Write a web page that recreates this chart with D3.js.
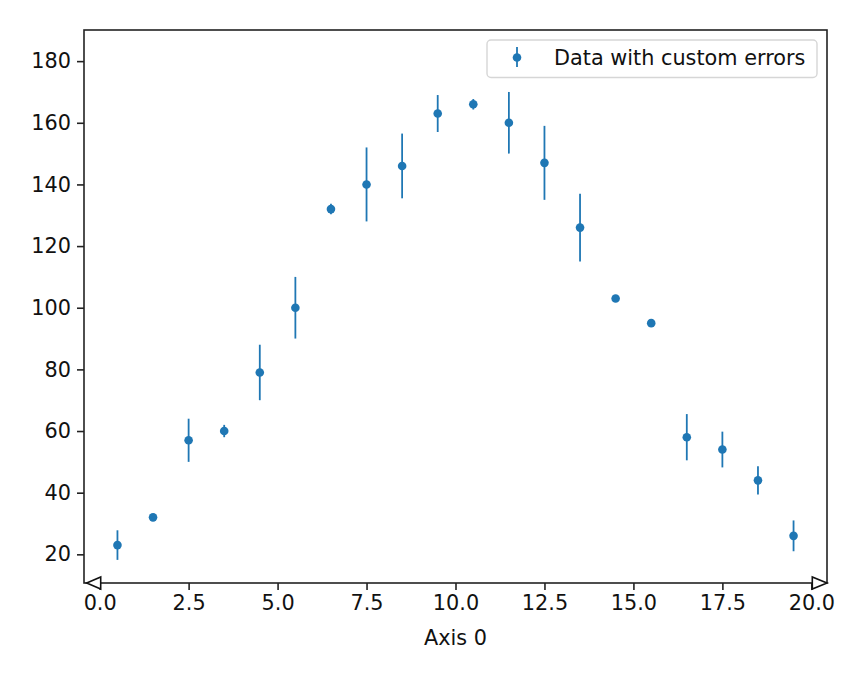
<!DOCTYPE html>
<html>
<head>
<meta charset="utf-8">
<script src="https://cdn.jsdelivr.net/npm/d3@7"></script>
<style>
  body { margin: 0; background: #fff; }
  text { font-family: "DejaVu Sans", sans-serif; }
</style>
</head>
<body>
<script>
var w = 864;
var h = 679;
var margin = {left: 84, right: 37, top: 30, bottom: 96};
var fontSize = "20.8px";

// bin centres, values and symmetric errors
var xs = [0.5, 1.5, 2.5, 3.5, 4.5, 5.5, 6.5, 7.5, 8.5, 9.5,
          10.5, 11.5, 12.5, 13.5, 14.5, 15.5, 16.5, 17.5, 18.5, 19.5];
var ys = [23, 32, 57, 60, 79, 100, 132, 140, 146, 163,
          166, 160, 147, 126, 103, 95, 58, 54, 44, 26];
var errs = [4.8, 0.5, 7, 2, 9, 10, 1.7, 12, 10.5, 6,
            1.7, 10, 12, 11, 0.5, 0.5, 7.5, 5.8, 4.6, 5];
var xTicks = [0, 2.5, 5, 7.5, 10, 12.5, 15, 17.5, 20];
var yTicks = [20, 40, 60, 80, 100, 120, 140, 160, 180];
var legendLabel = "Data with custom errors";
var xLabel = "Axis 0";

var data = xs.map(function(x, i) { return {x: x, y: ys[i], e: errs[i]}; });

var blue = "#1f77b4";
var x0 = margin.left, x1 = w - margin.right;
var y0 = margin.top, y1 = h - margin.bottom;

var xScale = d3.scaleLinear().domain([-0.44, 20.44]).range([x0, x1]);
var yScale = d3.scaleLinear().domain([10.7, 190.1]).range([y1, y0]);

var svg = d3.select("body").append("svg")
    .attr("width", w)
    .attr("height", h);

// error bars
svg.append("g").selectAll("line")
    .data(data)
    .enter()
    .append("line")
    .attr("x1", function(d) { return xScale(d.x); })
    .attr("x2", function(d) { return xScale(d.x); })
    .attr("y1", function(d) { return yScale(d.y - d.e); })
    .attr("y2", function(d) { return yScale(d.y + d.e); })
    .attr("stroke", blue)
    .attr("stroke-width", 1.8);

// points
svg.append("g").selectAll("circle")
    .data(data)
    .enter()
    .append("circle")
    .attr("cx", function(d) { return xScale(d.x); })
    .attr("cy", function(d) { return yScale(d.y); })
    .attr("r", 4.3)
    .attr("fill", blue);

// y axis
var yAxis = d3.axisLeft(yScale).tickValues(yTicks).tickSize(7).tickPadding(6)
    .tickFormat(d3.format("d"));
var gy = svg.append("g")
    .attr("transform", "translate(" + x0 + ",0)")
    .call(yAxis);

// x axis
var xAxis = d3.axisBottom(xScale).tickValues(xTicks).tickSize(7).tickPadding(5)
    .tickFormat(d3.format(".1f"));
var gx = svg.append("g")
    .attr("transform", "translate(0," + y1 + ")")
    .call(xAxis);

[gx, gy].forEach(function(g) {
    g.select(".domain").remove();
    g.selectAll(".tick line").attr("stroke", "#222").attr("stroke-width", 1.6);
    g.selectAll(".tick text").attr("font-size", fontSize).attr("fill", "#111");
});

// frame
svg.append("rect")
    .attr("x", x0).attr("y", y0)
    .attr("width", x1 - x0).attr("height", y1 - y0)
    .attr("fill", "none")
    .attr("stroke", "#222")
    .attr("stroke-width", 1.6);

// open arrow heads at both ends of the x axis
var arrows = [
    [[x0 + 2.7, y1], [x0 + 16.7, y1 - 6], [x0 + 16.7, y1 + 6]],
    [[x1, y1], [x1 - 14.7, y1 - 6], [x1 - 14.7, y1 + 6]]
];
svg.append("g").selectAll("path")
    .data(arrows)
    .enter()
    .append("path")
    .attr("d", function(d) { return "M" + d.join("L") + "Z"; })
    .attr("fill", "#fff")
    .attr("stroke", "#111")
    .attr("stroke-width", 1.6)
    .attr("stroke-linejoin", "miter");

// x label
svg.append("text")
    .attr("x", (x0 + x1) / 2)
    .attr("y", 645)
    .attr("text-anchor", "middle")
    .attr("font-size", fontSize)
    .attr("fill", "#111")
    .text(xLabel);

// legend
var lg = svg.append("g").attr("transform", "translate(487,40)");
lg.append("rect")
    .attr("width", 330).attr("height", 37.5)
    .attr("rx", 4).attr("ry", 4)
    .attr("fill", "#fff").attr("fill-opacity", 0.8)
    .attr("stroke", "#d6d6d6").attr("stroke-width", 1.4);
lg.append("line")
    .attr("x1", 30).attr("x2", 30)
    .attr("y1", 7).attr("y2", 27)
    .attr("stroke", blue).attr("stroke-width", 1.8);
lg.append("circle")
    .attr("cx", 30).attr("cy", 17.5).attr("r", 4.3)
    .attr("fill", blue);
lg.append("text")
    .attr("x", 67).attr("y", 25)
    .attr("font-size", fontSize)
    .attr("fill", "#111")
    .text(legendLabel);
</script>
</body>
</html>
